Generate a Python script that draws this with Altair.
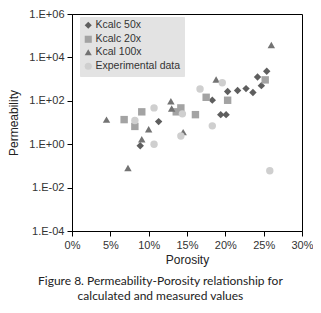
import altair as alt
import pandas as pd

series = ["Kcalc 50x", "Kcalc 20x", "Kcal 100x", "Experimental data"]

# porosity in %, permeability
k50_x = [8.9, 11.3, 18.3, 19.4, 20.1, 20.3, 21.6, 22.7, 23.6, 24.2, 24.7, 25.4]
k50_y = [0.85, 11, 107, 23, 23, 270, 300, 365, 240, 1250, 500, 2300]

k20_x = [6.8, 8.2, 9.1, 13.6, 14.2, 16.1, 17.5, 20.3, 25.2]
k20_y = [13.6, 6.6, 31, 31, 47, 23, 145, 106, 920]

k100_x = [4.5, 7.3, 9.1, 10.0, 12.9, 13.0, 14.5, 18.8, 26.0]
k100_y = [13.6, 0.08, 1.7, 4.9, 96, 44, 3.6, 950, 37000]

exp_x = [8.2, 10.7, 10.7, 14.2, 14.4, 16.7, 19.6, 18.3, 25.8]
exp_y = [12.3, 47, 1.0, 2.4, 25, 350, 680, 7.0, 0.06]

x_ticks = [0, 0.05, 0.10, 0.15, 0.20, 0.25, 0.30]
y_ticks = [1e-4, 1e-2, 1, 1e2, 1e4, 1e6]

shapes = ["diamond", "square", "triangle-up", "circle"]
colors = ["#5e5e5e", "#a3a3a3", "#737373", "#cfcfcf"]

rows = []
for name, xs, ys in zip(series, [k50_x, k20_x, k100_x, exp_x], [k50_y, k20_y, k100_y, exp_y]):
    for x, y in zip(xs, ys):
        rows.append({"series": name, "porosity": x / 100.0, "perm": y})
df = pd.DataFrame(rows)

font = "Liberation Sans"

leg = alt.Legend(
    title=None, orient="none", legendX=8, legendY=3,
    fillColor="#e3e3e3", strokeColor="#e3e3e3", padding=3,
    labelFontSize=10.5, labelFont=font, labelColor="#333333",
    symbolSize=50, symbolOpacity=1, rowPadding=0, labelOffset=2,
)

ylabel = ("'1.E' + (log(datum.value)/LN10 < -0.5 ? '-0' + format(-log(datum.value)/LN10, '.0f')"
          " : '+0' + format(log(datum.value)/LN10, '.0f'))")

chart = alt.Chart(df).mark_point(filled=True, opacity=1, size=55).encode(
    x=alt.X("porosity:Q",
            scale=alt.Scale(domain=[0, 0.3], nice=False, zero=False),
            axis=alt.Axis(values=x_ticks, format=".0%", title="Porosity", grid=False,
                          labelFontSize=11, titleFontSize=12, labelFont=font, titleFont=font,
                          titleFontWeight="normal", labelColor="#333333", titleColor="#222222",
                          domainColor="black", tickColor="black", tickSize=5, labelPadding=3,
                          titlePadding=4, labelFlush=False)),
    y=alt.Y("perm:Q",
            scale=alt.Scale(type="log", domain=[1e-4, 1e6], nice=False),
            axis=alt.Axis(values=y_ticks, labelExpr=ylabel, title="Permeability", grid=False,
                          labelFontSize=11, titleFontSize=12, labelFont=font, titleFont=font,
                          titleFontWeight="normal", labelColor="#333333", titleColor="#222222",
                          domainColor="black", tickColor="black", tickSize=5, labelPadding=3,
                          titlePadding=8, labelFlush=False)),
    shape=alt.Shape("series:N", scale=alt.Scale(domain=series, range=shapes), legend=leg),
    color=alt.Color("series:N", scale=alt.Scale(domain=series, range=colors), legend=leg),
).properties(
    width=230,
    height=217,
    autosize=alt.AutoSizeParams(type="none"),
    padding={"left": 64, "top": 6, "right": 11, "bottom": 73},
    title=alt.TitleParams(
        ["Figure 8. Permeability-Porosity relationship for", "calculated and measured values"],
        orient="bottom", anchor="middle", frame="bounds", fontSize=12, fontWeight="normal",
        font="Lato", color="#222222", offset=11, lineHeight=15,
    ),
).configure_view(stroke="black", strokeWidth=1)

chart.save("out.html", embed_options={"renderer": "svg", "actions": False})
